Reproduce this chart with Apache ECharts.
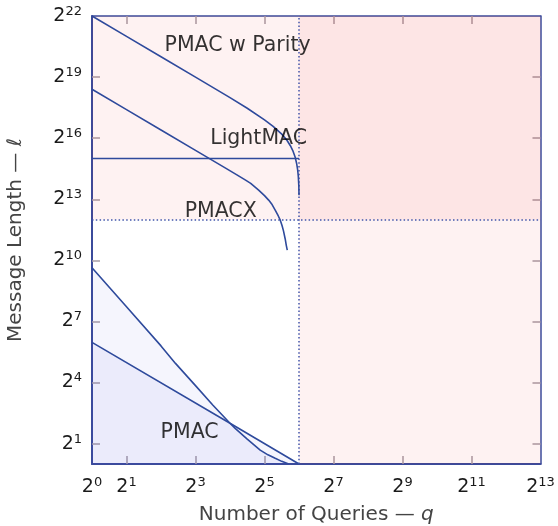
<!DOCTYPE html>
<html>
<head>
<meta charset="utf-8">
<script src="https://cdn.jsdelivr.net/npm/echarts@6/dist/echarts.min.js"></script>
<style>html,body{margin:0;padding:0;background:#fff;}#c{width:558px;height:526px;}</style>
</head>
<body>
<div id="c"></div>
<script>
// All values are log2 exponents: q = 2^x, l = 2^y
const xMin = 0, xMax = 13, yMin = 0, yMax = 22;
const xLabelExps = [0, 1, 3, 5, 7, 9, 11, 13];
const xTickExps = [1, 3, 5, 7, 9, 11];
const yLabelExps = [1, 4, 7, 10, 13, 16, 19, 22];
const yTickExps = [1, 4, 7, 10, 13, 16, 19];

const qLimit = 6;    // dotted vertical at q = 2^6
const lLimit = 12;   // dotted horizontal at l = 2^12

const parityQ = [0, 1, 2, 3, 4, 4.5, 5, 5.25, 5.5, 5.65, 5.75, 5.83, 5.89, 5.93, 5.96, 5.98, 5.995, 6.0];
const parityL = [22, 21, 20, 19, 17.99, 17.47, 16.9, 16.58, 16.2, 15.9, 15.63, 15.35, 15.06, 14.77, 14.46, 14.12, 13.65, 13.2];

const pmacxQ = [0, 1, 2, 3, 3.86, 4.2, 4.44, 4.6, 4.83, 5.0, 5.12, 5.22, 5.31, 5.4, 5.46, 5.51, 5.55, 5.6, 5.63, 5.66];
const pmacxL = [18.4, 17.4, 16.4, 15.4, 14.54, 14.2, 13.95, 13.78, 13.45, 13.18, 12.96, 12.74, 12.47, 12.18, 11.96, 11.7, 11.45, 11.05, 10.75, 10.5];

const lightQ = [0, 6];
const lightL = [15, 15];

const pmacAQ = [0, 1, 2, 2.42, 3, 3.5, 4.0, 4.15, 4.5, 4.875, 5.1, 5.31, 5.5, 5.7];
const pmacAL = [9.64, 7.72, 5.8, 4.94, 3.85, 2.9, 2.0, 1.75, 1.22, 0.68, 0.45, 0.28, 0.13, 0];

const pmacBQ = [0, 4.0, 6.0];
const pmacBL = [5.97, 2.0, 0];

const labelNames = ['PMAC w Parity', 'LightMAC', 'PMACX', 'PMAC'];
const labelQ = [4.22, 4.83, 3.73, 2.83];
const labelL = [20.53, 15.96, 12.40, 1.52];

const zip = (a, b) => a.map((v, i) => [v, b[i]]);

const lineColor = '#2e4a9c';
const frameColor = '#3b4b9b';
const tickColor = '#a89ea6';
const fontFam = '"DejaVu Sans", sans-serif';
const richLbl = {
  b: { fontSize: 19, fontFamily: fontFam, color: '#1a1a1a' },
  s: { fontSize: 13, fontFamily: fontFam, color: '#1a1a1a', padding: [0, 0, 9, 0] }
};
const fmt = v => '{b|2}{s|' + v + '}';
const tickStyle = { color: tickColor, width: 1.5 };

const chart = echarts.init(document.getElementById('c'), null, { renderer: 'canvas' });
chart.setOption({
  animation: false,
  backgroundColor: '#fff',
  grid: { left: 92, right: 17.5, top: 16, bottom: 62, show: false, outerBoundsMode: 'none', containLabel: false },
  xAxis: [{
    type: 'value', min: xMin, max: xMax, position: 'bottom',
    name: 'Number of Queries — {i|q}', nameLocation: 'middle', nameGap: 41,
    nameTextStyle: { fontSize: 20, fontFamily: fontFam, color: '#444', rich: { i: { fontSize: 20, fontFamily: fontFam, fontStyle: 'italic', color: '#444' } } },
    splitLine: { show: false },
    axisLine: { show: true, onZero: false, lineStyle: { color: frameColor, width: 2 } },
    axisTick: { show: true, inside: false, length: -8, customValues: xTickExps, lineStyle: tickStyle },
    axisLabel: { show: true, margin: 12, customValues: xLabelExps, formatter: fmt, rich: richLbl }
  }, {
    type: 'value', min: xMin, max: xMax, position: 'top',
    splitLine: { show: false },
    axisLine: { show: true, onZero: false, lineStyle: { color: frameColor, width: 1.5 } },
    axisTick: { show: true, inside: false, length: -8, customValues: xTickExps, lineStyle: tickStyle },
    axisLabel: { show: true, customValues: xTickExps, formatter: () => '' }
  }],
  yAxis: [{
    type: 'value', min: yMin, max: yMax, position: 'left',
    name: 'Message Length — ℓ', nameLocation: 'middle', nameGap: 66, nameRotate: 90,
    nameTextStyle: { fontSize: 20, fontFamily: fontFam, color: '#444' },
    splitLine: { show: false },
    axisLine: { show: true, onZero: false, lineStyle: { color: frameColor, width: 2 } },
    axisTick: { show: true, inside: false, length: -8, customValues: yTickExps, lineStyle: tickStyle },
    axisLabel: { show: true, margin: 10, customValues: yLabelExps, formatter: fmt, rich: richLbl }
  }, {
    type: 'value', min: yMin, max: yMax, position: 'right',
    splitLine: { show: false },
    axisLine: { show: true, onZero: false, lineStyle: { color: frameColor, width: 1.5 } },
    axisTick: { show: true, inside: false, length: -8, customValues: yTickExps, lineStyle: tickStyle },
    axisLabel: { show: true, customValues: yTickExps, formatter: () => '' }
  }],
  series: [
    {
      type: 'line', data: [], z: 1,
      markArea: {
        silent: true,
        itemStyle: { color: 'rgba(240,0,0,0.052)' },
        data: [
          [{ xAxis: qLimit, yAxis: yMin }, { xAxis: xMax, yAxis: yMax }],
          [{ xAxis: xMin, yAxis: lLimit }, { xAxis: xMax, yAxis: yMax }]
        ]
      }
    },
    {
      name: 'PMAC-A', type: 'line', data: zip(pmacAQ, pmacAL), showSymbol: false, z: 3,
      lineStyle: { color: lineColor, width: 1.6 },
      areaStyle: { color: 'rgba(50,50,225,0.072)', origin: 'start' }
    },
    {
      name: 'PMAC-B', type: 'line', data: zip(pmacBQ, pmacBL), showSymbol: false, z: 3,
      lineStyle: { color: lineColor, width: 1.6 },
      areaStyle: { color: 'rgba(50,50,225,0.072)', origin: 'start' }
    },
    {
      type: 'line', data: [], z: 4,
      markLine: {
        silent: true, symbol: 'none', label: { show: false },
        lineStyle: { color: '#4256aa', width: 1.5, type: [1.5, 2.3] },
        data: [{ xAxis: qLimit }, { yAxis: lLimit }]
      }
    },
    {
      name: 'PMAC w Parity', type: 'line', data: zip(parityQ, parityL), showSymbol: false, z: 5,
      lineStyle: { color: lineColor, width: 1.6 }
    },
    {
      name: 'PMACX', type: 'line', data: zip(pmacxQ, pmacxL), showSymbol: false, z: 5,
      lineStyle: { color: lineColor, width: 1.6 }
    },
    {
      name: 'LightMAC', type: 'line', data: zip(lightQ, lightL), showSymbol: false, z: 5,
      lineStyle: { color: lineColor, width: 1.6 }
    },
    {
      type: 'scatter', symbolSize: 0, z: 6,
      data: labelNames.map((n, i) => [labelQ[i], labelL[i], n]),
      label: {
        show: true, position: 'inside', formatter: p => p.data[2],
        fontSize: 20.5, fontFamily: fontFam, color: '#000', textBorderWidth: 0
      }
    }
  ]
});
</script>
</body>
</html>
